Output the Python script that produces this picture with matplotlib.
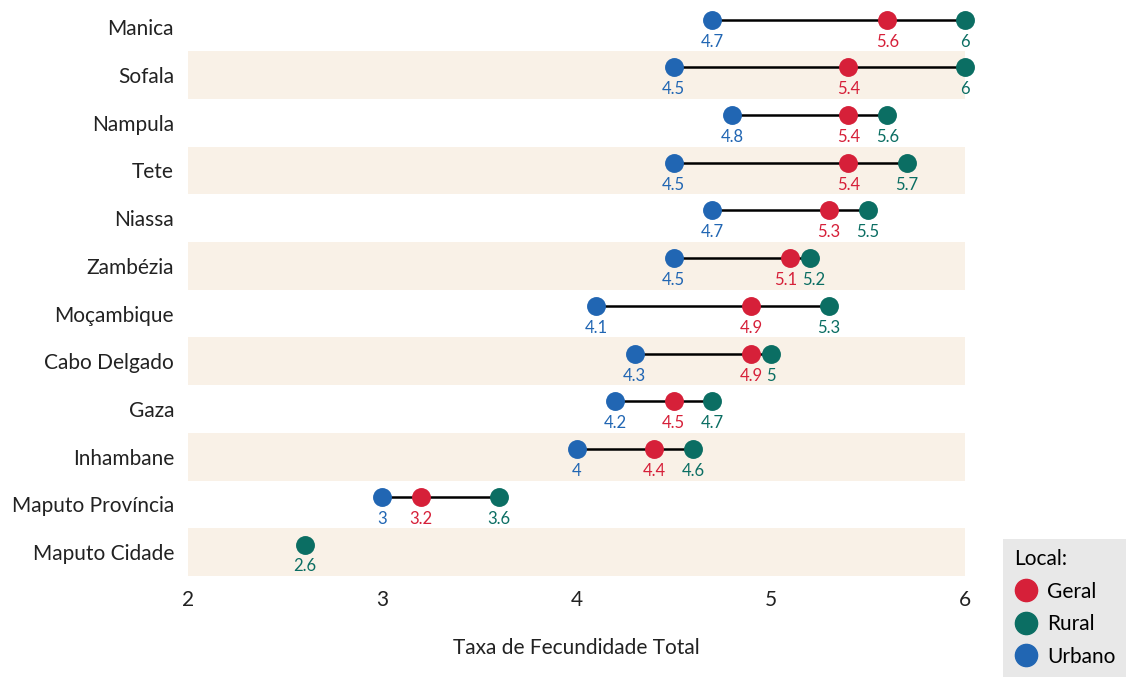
import matplotlib.pyplot as plt
import numpy as np
from matplotlib.lines import Line2D

plt.rcParams["font.family"] = ["Lato", "DejaVu Sans"]

provinces = [
    "Manica", "Sofala", "Nampula", "Tete", "Niassa", "Zambézia",
    "Moçambique", "Cabo Delgado", "Gaza", "Inhambane",
    "Maputo Província", "Maputo Cidade",
]
geral = [5.6, 5.4, 5.4, 5.4, 5.3, 5.1, 4.9, 4.9, 4.5, 4.4, 3.2, np.nan]
rural = [6.0, 6.0, 5.6, 5.7, 5.5, 5.2, 5.3, 5.0, 4.7, 4.6, 3.6, 2.6]
urbano = [4.7, 4.5, 4.8, 4.5, 4.7, 4.5, 4.1, 4.3, 4.2, 4.0, 3.0, np.nan]

colors = {"Geral": "#d62039", "Rural": "#0b6e63", "Urbano": "#2166b3"}
band_color = "#f9f1e7"

XMIN, XMAX = 2, 6
fig = plt.figure(figsize=(11.26, 6.77), dpi=100)
ax_top, ax_bottom = 3.4, 576
ax = fig.add_axes([188 / 1126, 1 - ax_bottom / 677, (965 - 188) / 1126,
                   (ax_bottom - ax_top) / 677])
pt_per_unit = (965 - 188) / (XMAX - XMIN) * 72 / fig.dpi


def spread_labels(items, char_pt=5.8, gap_pt=3.0):
    """Nudge value labels of one row sideways so they do not collide."""
    items = sorted(items, key=lambda it: it[0])
    shifts = [0.0] * len(items)
    for i in range(1, len(items)):
        (x0, t0, _), (x1, t1, _) = items[i - 1], items[i]
        need = (len(t0) + len(t1)) * char_pt / 2 + gap_pt
        have = (x1 - x0) * pt_per_unit + shifts[i] - shifts[i - 1]
        if have < need:
            d = (need - have) / 2
            shifts[i - 1] -= d
            shifts[i] += d
    return [(x, t, c, s) for (x, t, c), s in zip(items, shifts)]


ypos = np.arange(len(provinces))
# dots sit a little above the middle of each row, value labels beneath
dot_y = ypos - 0.16

# alternating row bands
for y in ypos[1::2]:
    ax.fill_between([XMIN, XMAX], y - 0.5, y + 0.5, color=band_color, lw=0, zorder=0)

for y, g, r, u in zip(dot_y, geral, rural, urbano):
    vals = [v for v in (g, r, u) if not np.isnan(v)]
    if len(vals) > 1:
        ax.plot([min(vals), max(vals)], [y, y], color="black", lw=1.8, zorder=1)

series = [("Urbano", urbano), ("Geral", geral), ("Rural", rural)]
for name, vals in series:
    ax.scatter(vals, dot_y, s=185, color=colors[name], zorder=3, linewidths=0,
               clip_on=False)

for i, y in enumerate(dot_y):
    row = [(vals[i], f"{vals[i]:g}", colors[name])
           for name, vals in series if not np.isnan(vals[i])]
    for x, txt, col, dx in spread_labels(row):
        ax.annotate(txt, (x, y), xytext=(dx, -10), textcoords="offset points",
                    ha="center", va="top", fontsize=12, color=col)

ax.set_xlim(XMIN, XMAX)
ax.set_ylim(len(provinces) - 0.5, -0.5)
ax.set_yticks(ypos)
ax.set_yticklabels(provinces, fontsize=15, color="#222222")
ax.set_xticks([2, 3, 4, 5, 6])
ax.tick_params(axis="both", length=0, labelsize=15, colors="#222222")
ax.tick_params(axis="x", pad=10)
ax.tick_params(axis="y", pad=10)
for s in ax.spines.values():
    s.set_visible(False)
ax.set_xlabel("Taxa de Fecundidade Total", fontsize=15, color="#222222", labelpad=20)

handles = [
    Line2D([], [], marker="o", ls="", markersize=16, color=colors[k], label=k)
    for k in ["Geral", "Rural", "Urbano"]
]
leg = fig.legend(handles=handles, title="Local:", loc="lower right",
                 bbox_to_anchor=(1.0, 0.0), fontsize=15, title_fontsize=15,
                 frameon=True, fancybox=False, framealpha=1, borderaxespad=0,
                 handletextpad=0.4, labelspacing=0.6, borderpad=0.5,
                 handlelength=1.2)
leg.get_frame().set_facecolor("#e8e8e8")
leg.get_frame().set_edgecolor("none")
leg._legend_box.align = "left"

fig.savefig("out.png", dpi=100)
